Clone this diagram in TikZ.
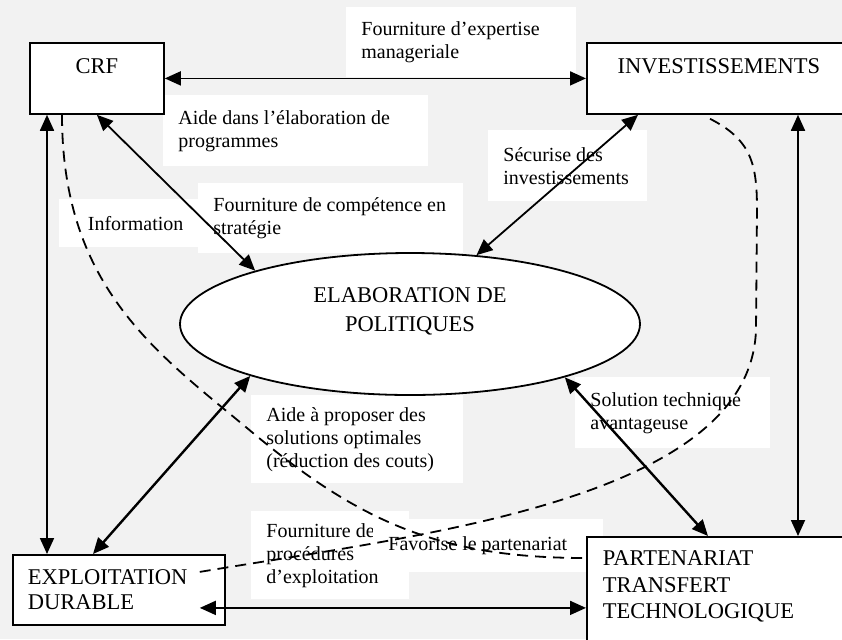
\documentclass[tikz,border=0pt]{standalone}
\usepackage{fontspec}
\setmainfont{Liberation Serif}
\usetikzlibrary{arrows.meta}
\usetikzlibrary{shapes.geometric}
\usetikzlibrary{positioning}

\definecolor{bggray}{HTML}{F2F2F2}

\begin{document}
\begin{tikzpicture}[x=0.5pt,y=-0.5pt,
    box/.style={draw,fill=white,line width=0.9pt,anchor=north west,inner sep=0pt,
      font=\fontsize{11.25}{12.5}\selectfont},
    lbl/.style={fill=white,anchor=north west,align=flush left,inner xsep=7.5pt,inner ysep=0pt,
      font=\fontsize{10}{11.5}\selectfont},
    link/.style={line width=0.9pt,<->,>={Triangle[length=8pt,width=7pt]}},
    flow/.style={line width=0.9pt,dash pattern=on 5.5pt off 3.5pt}]

  \useasboundingbox (0,0) rectangle (842,639);
  \clip (0,0) rectangle (842,639);
  \fill [bggray] (0,0) rectangle (842,639);

  % labels of the links
  \node [lbl,text width=100pt,minimum height=35pt]  (l_expert) at (346,7)   {Fourniture d’expertise\\manageriale};
  \node [lbl,text width=117.5pt,minimum height=35.5pt] (l_prog) at (163,95) {Aide dans l’élaboration de\\programmes};
  \node [lbl,text width=54.5pt,minimum height=24pt,align=flush right] (l_info) at (59,199) {Information};
  \node [lbl,text width=117.5pt,minimum height=35pt] (l_strat) at (198,183)  {Fourniture de compétence en\\stratégie};
  \node [lbl,text width=64.5pt,minimum height=35.5pt] (l_secu) at (488,130)  {Sécurise des\\investissements};
  \node [lbl,text width=91pt,minimum height=44pt]   (l_optim) at (251,395)  {Aide à proposer des\\solutions optimales\\(réduction des couts)};
  \node [lbl,text width=64pt,minimum height=44pt]   (l_proc) at (251,511)   {Fourniture de\\procédures\\d’exploitation};
  \node [lbl,text width=100pt,minimum height=26.5pt] (l_part) at (373,519)  {Favorise le partenariat};
  \node [lbl,text width=82.5pt,minimum height=35.5pt] (l_tech) at (575,377) {Solution technique\\avantageuse};

  % actors
  \node [box,minimum width=67pt,minimum height=35.5pt,align=center] (crf) at (29,42) {CRF\\\mbox{}};
  \node [box,minimum width=132pt,minimum height=35.5pt,align=center] (invest) at (586,42) {INVESTISSEMENTS\\\mbox{}};
  \node [box,text width=91pt,inner xsep=7.5pt,minimum height=35pt,align=flush left] (expl) at (12,554) {EXPLOITATION\\DURABLE};
  \node [box,text width=116pt,inner xsep=8pt,minimum height=61pt,align=flush left,
    font=\fontsize{11.25}{13.25}\selectfont] (part) at (586,536) {PARTENARIAT\\TRANSFERT\\TECHNOLOGIQUE\\\mbox{}};
  \node [ellipse,draw,fill=white,line width=0.9pt,inner sep=0pt,minimum width=230pt,minimum height=71pt,
    align=center,font=\fontsize{11.25}{14.5}\selectfont] (pol) at (410,324) {ELABORATION DE\\POLITIQUES\\\mbox{}};

  % ends of the links
  \coordinate (crf_down)  at ([xshift=9pt]crf.south west);
  \coordinate (inv_down)  at ([xshift=106pt]invest.south west);
  \coordinate (expl_out)  at ([shift={(-13pt,-9pt)}]expl.east);
  \coordinate (crf_dash)  at ([xshift=16.5pt]crf.south west);
  \coordinate (part_dash) at ([yshift=-11pt]part.north west);
  \coordinate (inv_dash)  at ([shift={(62pt,-2pt)}]invest.south west);
  \coordinate (expl_dash) at ([shift={(-13pt,9pt)}]expl.east);

  \path [link]
    (crf.east) edge (invest.west)
    (crf_down) edge (crf_down |- expl.north)
    (inv_down) edge (inv_down |- part.north)
    (expl_out) edge (part.west |- expl_out)
    (crf.south) edge (pol.161)
    ([xshift=26pt]invest.south west) edge (pol.46);

  \path [link,line width=1.2pt]
    (pol.198) edge ([xshift=40.5pt]expl.north west)
    (pol.341.5) edge ([xshift=61pt]part.north west);

  \draw [flow] (crf_dash) .. controls (62,290) and (160,355) .. (253,433)
    .. controls (360,522) and (440,558) .. (part_dash);
  \draw [flow] (inv_dash) .. controls (752,140) and (757,165) .. (757,210) -- (756,330)
    .. controls (750,500) and (420,535) .. (expl_dash);

\end{tikzpicture}
\end{document}
